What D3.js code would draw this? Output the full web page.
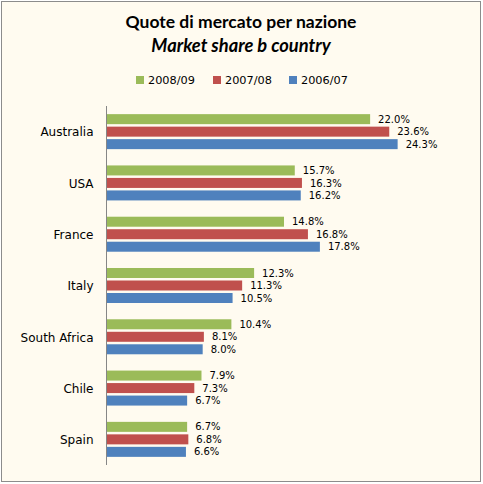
<!DOCTYPE html>
<html>
<head>
<meta charset="utf-8">
<script src="https://cdn.jsdelivr.net/npm/d3@7"></script>
<style>
  body { margin: 0; background: #fff; }
  svg { display: block; }
</style>
</head>
<body>
<svg id="chart"></svg>
<script>
// data
const countries = ["Australia", "USA", "France", "Italy", "South Africa", "Chile", "Spain"];
const seasons = ["2008/09", "2007/08", "2006/07"];
const share0809 = [22.0, 15.7, 14.8, 12.3, 10.4, 7.9, 6.7];
const share0708 = [23.6, 16.3, 16.8, 11.3, 8.1, 7.3, 6.8];
const share0607 = [24.3, 16.2, 17.8, 10.5, 8.0, 6.7, 6.6];
const seriesValues = [share0809, share0708, share0607];

/// constants ///
const width = 483;
const height = 484;
const colours = ["#9BBB59", "#C0504D", "#4F81BD"];
const labelFont = "DejaVu Sans, Verdana, sans-serif";

const svg = d3.select("#chart").attr("width", width).attr("height", height);

// background + border
svg.append("rect")
  .attr("x", 1.5).attr("y", 1.5)
  .attr("width", 479).attr("height", 480)
  .attr("fill", "#FFFBF0")
  .attr("stroke", "#8C8C8C")
  .attr("stroke-width", 1);

// titles
svg.append("text")
  .attr("x", 241).attr("y", 28)
  .attr("text-anchor", "middle")
  .attr("font-family", "Lato, sans-serif")
  .attr("font-weight", "bold")
  .attr("font-size", "17.5px")
  .text("Quote di mercato per nazione");

svg.append("text")
  .attr("x", 241).attr("y", 52)
  .attr("text-anchor", "middle")
  .attr("font-family", "Lato, sans-serif")
  .attr("font-weight", "bold")
  .attr("font-style", "italic")
  .attr("font-size", "18.3px")
  .text("Market share b country");

// legend
const legendX = [136, 213, 289];
const legend = svg.append("g");
seasons.forEach((s, i) => {
  legend.append("rect")
    .attr("x", legendX[i]).attr("y", 76)
    .attr("width", 8).attr("height", 8)
    .attr("fill", colours[i]);
  legend.append("text")
    .attr("x", legendX[i] + 12).attr("y", 84)
    .attr("font-family", labelFont)
    .attr("font-size", "11.3px")
    .attr("fill", "#000")
    .text(s);
});

/// scales ///
const x = d3.scaleLinear().domain([0, 25]).range([107, 107 + 25 * 11.96]);
const y = d3.scaleBand().domain(countries).range([106, 465]);
const groupPad = (y.bandwidth() - 35) / 2;
const ySub = d3.scaleBand().domain(seasons).range([groupPad, groupPad + 35]).paddingInner(0.2);

const g = svg.append("g");

seasons.forEach((s, si) => {
  const rows = countries.map((c, ci) => ({ country: c, value: seriesValues[si][ci] }));

  g.selectAll(".bar-" + si).data(rows).join("rect")
    .attr("class", "bar-" + si)
    .attr("x", x(0))
    .attr("y", d => y(d.country) + ySub(s))
    .attr("width", d => x(d.value) - x(0))
    .attr("height", ySub.bandwidth())
    .attr("fill", colours[si]);

  g.selectAll(".lbl-" + si).data(rows).join("text")
    .attr("class", "lbl-" + si)
    .attr("x", d => x(d.value) + 8)
    .attr("y", d => y(d.country) + ySub(s) + ySub.bandwidth() / 2)
    .attr("dy", "0.36em")
    .attr("font-family", labelFont)
    .attr("font-size", "10px")
    .text(d => d.value.toFixed(1) + "%");
});

// category axis
const yAxis = svg.append("g")
  .attr("transform", `translate(${x(0) - 0.5},0)`)
  .call(d3.axisLeft(y).tickSize(0).tickPadding(13));
yAxis.select(".domain").attr("stroke", "#868686").attr("d", `M0,${y.range()[0]}V${y.range()[1]}`);
yAxis.selectAll("text")
  .attr("font-family", labelFont)
  .attr("font-size", "12px")
  .attr("dy", "0.4em")
  .attr("fill", "#000");
</script>
</body>
</html>
